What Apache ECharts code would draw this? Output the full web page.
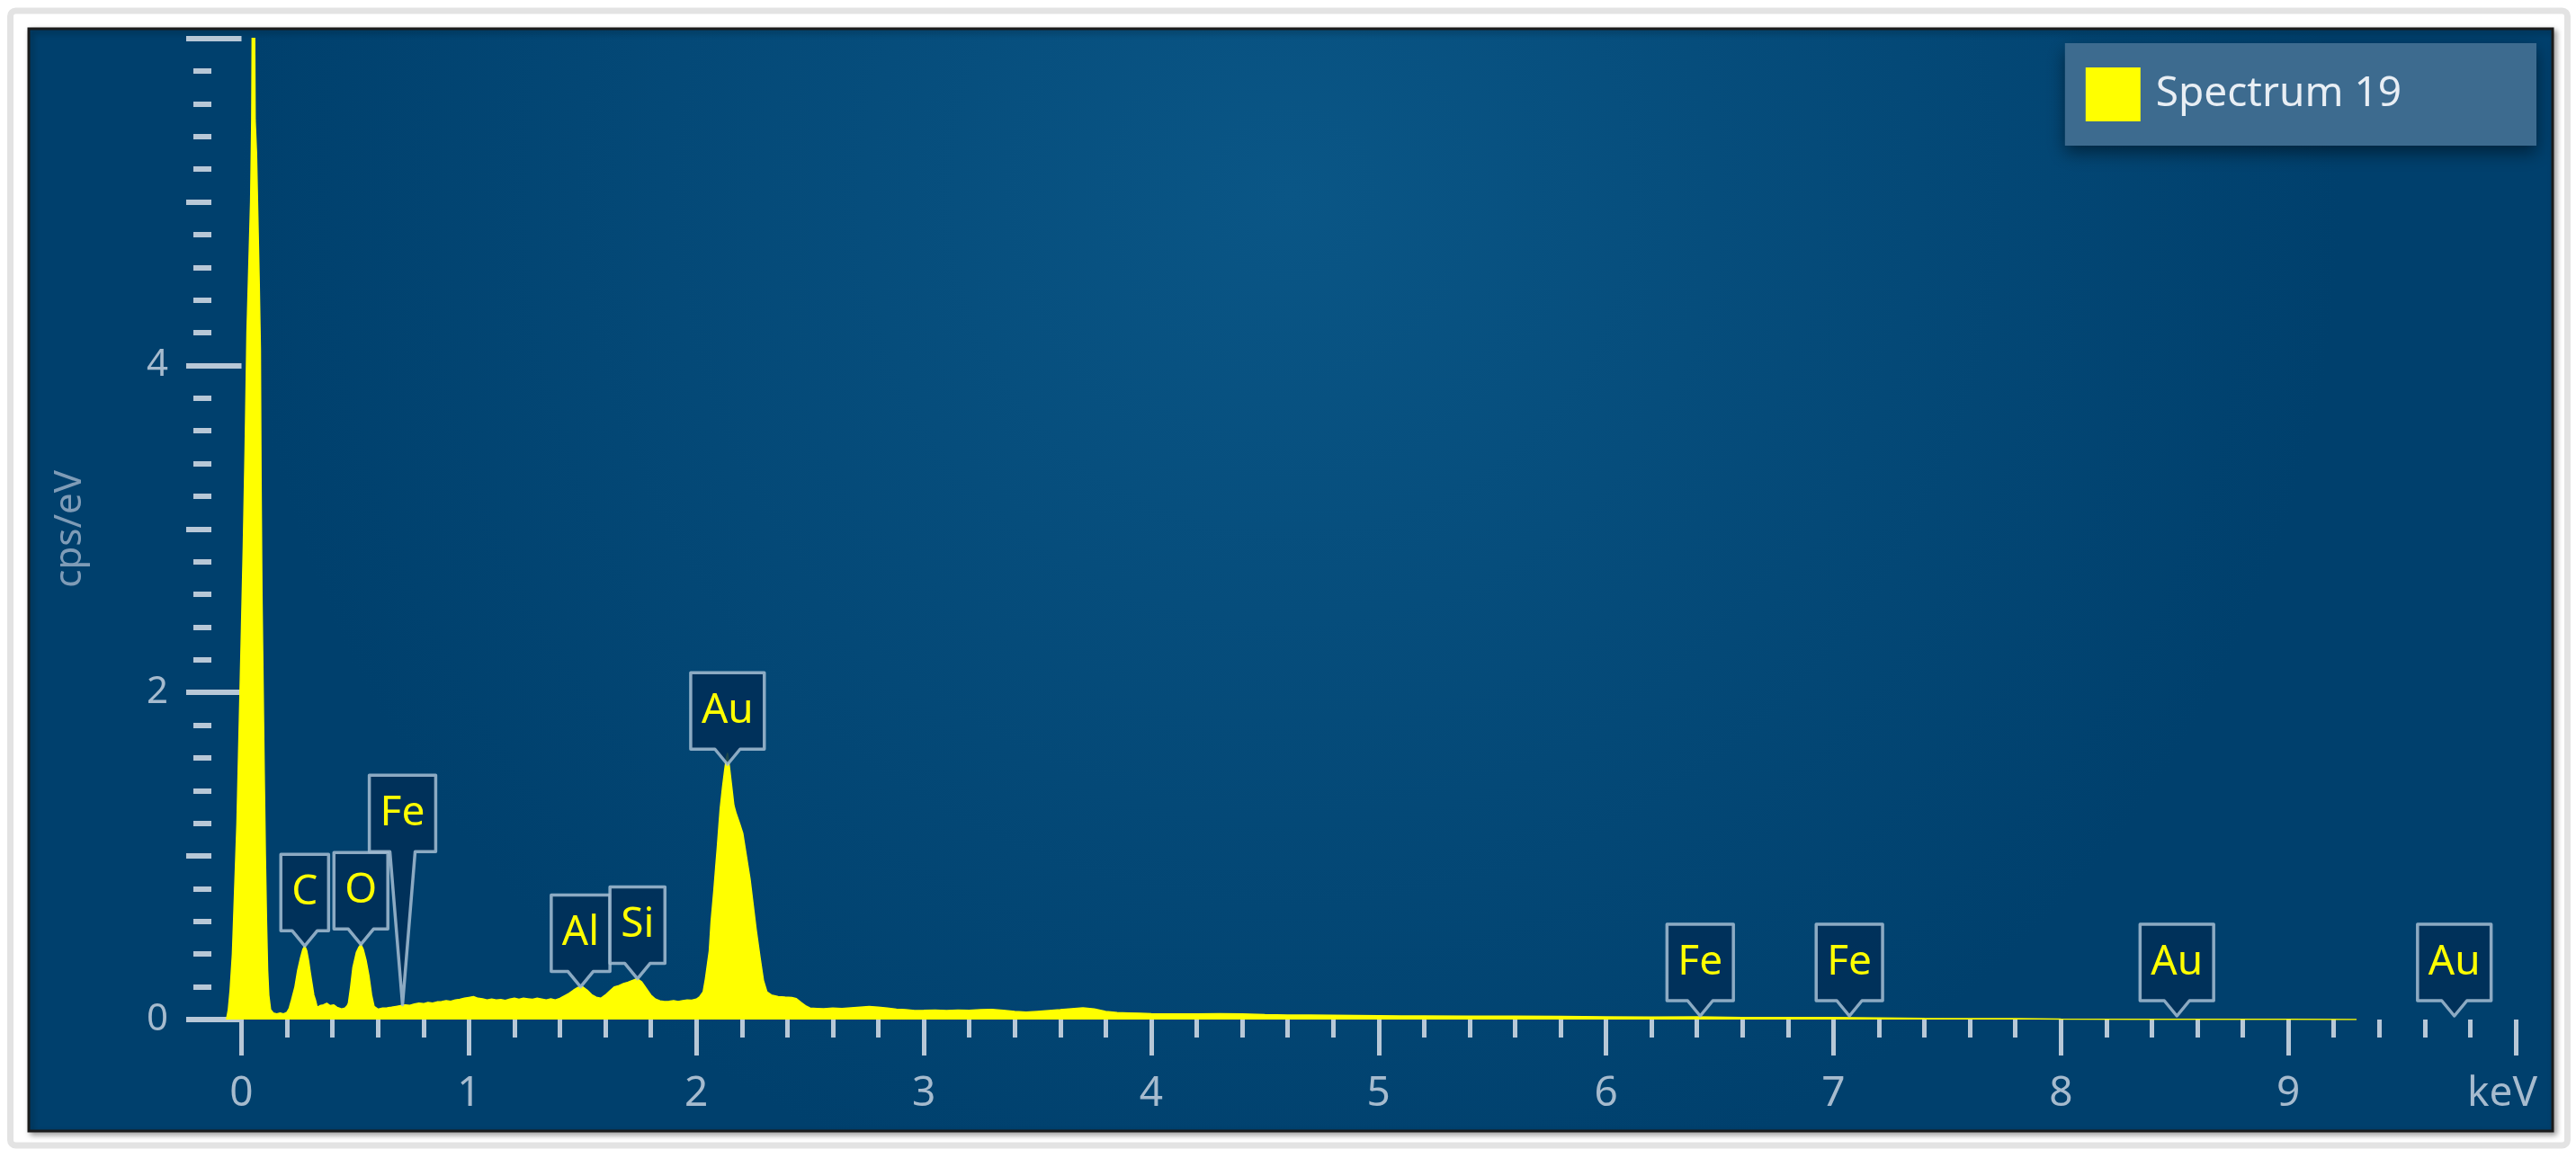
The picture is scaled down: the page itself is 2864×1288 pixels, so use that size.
<!DOCTYPE html>
<html><head><meta charset="utf-8">
<script src="https://cdn.jsdelivr.net/npm/echarts@6/dist/echarts.min.js"></script>
<style>html,body{margin:0;padding:0;background:#fff}#c{width:2864px;height:1288px}</style>
</head><body><div id="c"></div>
<script>
// ---------- DATA ----------
const energy = [
-0.066,-0.058,-0.05,-0.04,-0.03,-0.02,-0.01,0.0,0.008,0.016,0.024,0.032,0.04,0.045,0.047,0.058,0.06,0.066,0.072,0.078,
0.083,0.086,0.09,0.095,0.1,0.105,0.11,0.115,0.12,0.128,0.14,0.155,0.17,0.185,0.2,0.21,0.22,0.235,0.247,0.26,
0.27,0.278,0.287,0.295,0.301,0.31,0.318,0.325,0.333,0.345,0.36,0.375,0.39,0.405,0.42,0.44,0.455,0.465,0.47,0.48,
0.49,0.505,0.515,0.525,0.535,0.548,0.56,0.572,0.583,0.6,0.62,0.64,0.66,0.68,0.7,0.72,0.74,0.76,0.78,0.8,
0.82,0.84,0.86,0.88,0.9,0.92,0.94,0.96,0.98,1.0,1.02,1.04,1.06,1.08,1.1,1.12,1.14,1.16,1.18,1.2,
1.22,1.24,1.26,1.28,1.3,1.32,1.34,1.36,1.38,1.4,1.42,1.44,1.46,1.48,1.5,1.52,1.54,1.56,1.58,1.6,
1.62,1.64,1.66,1.68,1.7,1.72,1.74,1.76,1.78,1.8,1.82,1.84,1.86,1.88,1.9,1.92,1.94,1.96,1.98,2.0,
2.015,2.03,2.04,2.05,2.057,2.065,2.077,2.085,2.092,2.1,2.105,2.115,2.125,2.132,2.137,2.145,2.155,2.165,2.175,2.19,
2.204,2.22,2.236,2.25,2.263,2.28,2.295,2.31,2.33,2.36,2.39,2.42,2.44,2.46,2.48,2.5,2.53,2.56,2.6,2.64,
2.68,2.72,2.76,2.8,2.84,2.88,2.92,2.96,3.0,3.05,3.1,3.15,3.2,3.25,3.3,3.35,3.4,3.45,3.5,3.55,
3.6,3.65,3.7,3.75,3.8,3.85,3.9,3.95,4.0,4.1,4.2,4.3,4.4,4.5,4.6,4.7,4.8,4.9,5.0,5.1,
5.2,5.4,5.6,5.8,6.0,6.2,6.4,6.6,6.8,7.0,7.2,7.4,7.6,7.8,8.0,8.3,8.6,9.0,9.3
];
const counts = [
0,0.06,0.18,0.4,0.8,1.2,1.8,2.4,2.9,3.5,4.2,4.6,5.0,5.5,6.03,6.03,5.5,5.3,4.9,4.5,
4.1,3.3,2.6,2.05,1.5,1.0,0.6,0.3,0.15,0.06,0.04,0.035,0.04,0.035,0.045,0.07,0.12,0.2,0.3,0.38,
0.43,0.45,0.42,0.36,0.3,0.22,0.15,0.12,0.075,0.085,0.09,0.1,0.085,0.09,0.075,0.065,0.07,0.085,0.1,0.2,
0.32,0.41,0.44,0.46,0.43,0.36,0.27,0.15,0.08,0.064,0.07,0.072,0.075,0.08,0.085,0.09,0.087,0.095,0.1,0.097,
0.104,0.1,0.108,0.11,0.115,0.111,0.12,0.124,0.13,0.135,0.14,0.13,0.126,0.12,0.125,0.119,0.122,0.117,0.125,0.13,
0.124,0.13,0.127,0.124,0.13,0.125,0.12,0.126,0.12,0.13,0.145,0.16,0.18,0.197,0.2,0.18,0.152,0.136,0.13,0.15,
0.176,0.2,0.208,0.22,0.228,0.24,0.25,0.23,0.19,0.15,0.125,0.114,0.11,0.112,0.116,0.11,0.115,0.12,0.118,0.125,
0.14,0.17,0.25,0.35,0.42,0.6,0.79,0.93,1.05,1.2,1.29,1.42,1.53,1.6,1.63,1.55,1.43,1.31,1.26,1.2,
1.14,1.0,0.86,0.7,0.55,0.38,0.24,0.17,0.15,0.14,0.137,0.135,0.128,0.105,0.085,0.07,0.068,0.066,0.07,0.067,
0.072,0.076,0.08,0.075,0.07,0.063,0.06,0.055,0.056,0.058,0.055,0.058,0.056,0.06,0.062,0.057,0.05,0.045,0.05,0.055,
0.06,0.066,0.072,0.064,0.05,0.042,0.04,0.038,0.036,0.034,0.035,0.036,0.034,0.03,0.028,0.027,0.026,0.025,0.024,0.022,
0.022,0.021,0.02,0.019,0.017,0.015,0.016,0.013,0.012,0.012,0.01,0.007,0.006,0.005,0.003,0.002,0.001,0.001,0
];
const peakNames  = ['C','O','Fe','Al','Si','Au','Fe','Fe','Au','Au'];
const peakEnergy = [0.278,0.525,0.708,1.491,1.741,2.137,6.414,7.07,8.51,9.73];
const peakValue  = [0.45,0.46,0.09,0.20,0.25,1.56,0.022,0.022,0.022,0.022];
const xTickLabels = ['0','1','2','3','4','5','6','7','8','9','keV'];
const yTickLabels = {0:'0',2:'2',4:'4',6:''};
const seriesName = 'Spectrum 19';
const yAxisTitle = 'cps/eV';

// ---------- RENDER ----------
const FONT = '"Noto Sans", "Open Sans", sans-serif';
const TICK = '#b8c8d7';
const LABEL = '#a6bbce';
const LBL_SIZE = 46, BOX_H = 85, PTR_H = 17, PAD = 12, PTR_HALF = 14;
// plot frame: y axis sits left of the 0 keV tick; x range of the data grid starts below zero
const GRID_TOP = 42.7, GRID_BOTTOM = 154, GRID_RIGHT = 67, X0_PX = 268.5, YAXIS_PX = 235;
const X_MAX = 10;
const X_MIN_DATA = -(X0_PX - YAXIS_PX) * X_MAX / (2864 - GRID_RIGHT - X0_PX);

const mctx = document.createElement('canvas').getContext('2d');
function textW(t){ mctx.font = LBL_SIZE + 'px ' + FONT; return mctx.measureText(t).width; }

function layoutBoxes(api){
  const boxes = [];
  for (let j = 0; j < peakNames.length; j++){
    const tip = api.coord([peakEnergy[j], peakValue[j]]);
    const w = textW(peakNames[j]) + 2*PAD;
    const left = tip[0] - w/2, right = tip[0] + w/2;
    let bottom = tip[1] - PTR_H;
    let changed = true, guard = 0;
    while (changed && guard++ < 20){
      changed = false;
      for (const b of boxes){
        const hov = Math.min(right, b.right) - Math.max(left, b.left);
        const vov = Math.min(bottom, b.bottom) - Math.max(bottom - BOX_H, b.top);
        if (hov > 4 && vov > 0){ bottom = b.top - 1; changed = true; }
      }
    }
    boxes.push({left, right, top: bottom - BOX_H, bottom, tip});
  }
  return boxes;
}

const chart = echarts.init(document.getElementById('c'), null, {renderer:'canvas', width:2864, height:1288});
const option = {
  backgroundColor:'#ffffff',
  animation:false,
  graphic:[
    {type:'rect', z:-20, silent:true, shape:{x:11.5,y:12,width:2843,height:1262,r:6},
     style:{fill:'#ffffff', stroke:'#e3e3e3', lineWidth:7}},
    {type:'rect', z:-10, silent:true, shape:{x:32,y:32,width:2806,height:1226},
     style:{fill:new echarts.graphic.RadialGradient(0.5,0.15,0.95,[{offset:0,color:'#0a5686'},{offset:1,color:'#00406d'}]),
            stroke:'#1a1a1a', lineWidth:3, shadowBlur:6, shadowOffsetX:3, shadowOffsetY:3, shadowColor:'rgba(0,0,0,0.35)'}}
  ],
  legend:{
    top:48, right:44, selectedMode:false, icon:'rect', itemWidth:61, itemHeight:60,
    backgroundColor:'#3d6b8f', padding:[27,150,27,23],
    shadowBlur:18, shadowColor:'rgba(0,0,0,0.45)', shadowOffsetY:8,
    textStyle:{color:'#e8eef4', fontSize:46, fontFamily:FONT, padding:[0,0,0,12]},
    data:[{name:seriesName, itemStyle:{color:'#ffff00'}}]
  },
  grid:[
    {left:YAXIS_PX, right:GRID_RIGHT, top:GRID_TOP, bottom:GRID_BOTTOM},
    {left:X0_PX, right:GRID_RIGHT, top:GRID_TOP, bottom:GRID_BOTTOM}
  ],
  xAxis:[
    {type:'value', gridIndex:0, min:X_MIN_DATA, max:X_MAX, show:false},
    {type:'value', gridIndex:1, min:0, max:X_MAX, interval:1, offset:9,
     axisLine:{show:false},
     axisTick:{show:true, length:40, lineStyle:{color:TICK, width:5}},
     minorTick:{show:true, splitNumber:5, length:20, lineStyle:{color:TICK, width:5}},
     splitLine:{show:false}, minorSplitLine:{show:false},
     axisLabel:{margin:51, color:LABEL, fontSize:46, fontFamily:FONT,
       formatter:v => { const s = xTickLabels[Math.round(v)] ?? ''; return v >= X_MAX ? '{k|' + s + '}' : s; },
       rich:{k:{color:LABEL, fontSize:46, fontFamily:FONT, padding:[0,30,0,0]}}}}
  ],
  yAxis:[
    {type:'value', gridIndex:0, min:0, max:6, interval:2, position:'left',
     axisLine:{show:false},
     axisTick:{show:true, length:40, lineStyle:{color:TICK, width:6}},
     splitLine:{show:false},
     axisLabel:{margin:48, color:LABEL, fontSize:42, fontFamily:FONT,
       formatter:v => yTickLabels[Math.round(v)] ?? ''},
     name:yAxisTitle, nameLocation:'middle', nameGap:136, nameRotate:90,
     nameTextStyle:{color:'#7f9cb7', fontSize:42, fontFamily:FONT}},
    {type:'value', gridIndex:0, min:0, max:6, interval:1, position:'left',
     axisLine:{show:false},
     axisTick:{show:true, length:28, lineStyle:{color:TICK, width:6}},
     minorTick:{show:true, splitNumber:5, length:20, lineStyle:{color:TICK, width:6}},
     splitLine:{show:false}, minorSplitLine:{show:false},
     axisLabel:{show:false}},
    {type:'value', gridIndex:1, min:0, max:6, show:false}
  ],
  series:[
    {type:'line', name:seriesName, xAxisIndex:0, yAxisIndex:0,
     data:energy.map((e,i)=>[e,counts[i]]),
     showSymbol:false, symbol:'none', silent:true, z:3,
     lineStyle:{color:'#ffff00', width:1.5}, itemStyle:{color:'#ffff00'},
     areaStyle:{color:'#ffff00', opacity:1}},
    {type:'custom', name:'peaks', xAxisIndex:0, yAxisIndex:0, clip:false, silent:true, z:5,
     data:peakEnergy.map((e,i)=>[e, peakValue[i]]),
     encode:{x:0, y:1},
     renderItem:(params, api) => {
       const boxes = layoutBoxes(api);
       const b = boxes[params.dataIndex];
       const cx = (b.left + b.right)/2;
       return {type:'group', children:[
         {type:'polygon', shape:{points:[[b.left,b.top],[b.right,b.top],[b.right,b.bottom],[cx+PTR_HALF,b.bottom],
           [b.tip[0],b.tip[1]],[cx-PTR_HALF,b.bottom],[b.left,b.bottom]]},
          style:{fill:'rgba(0,47,88,0.88)', stroke:'rgba(165,190,212,0.85)', lineWidth:3.5, lineJoin:'round'}},
         {type:'text', style:{text:peakNames[params.dataIndex], x:cx, y:(b.top+b.bottom)/2,
           align:'center', verticalAlign:'middle', textAlign:'center', textVerticalAlign:'middle',
           fill:'#ffff00', font:LBL_SIZE+'px '+FONT}}
       ]};
     }}
  ]
};
chart.setOption(option);
</script></body></html>
